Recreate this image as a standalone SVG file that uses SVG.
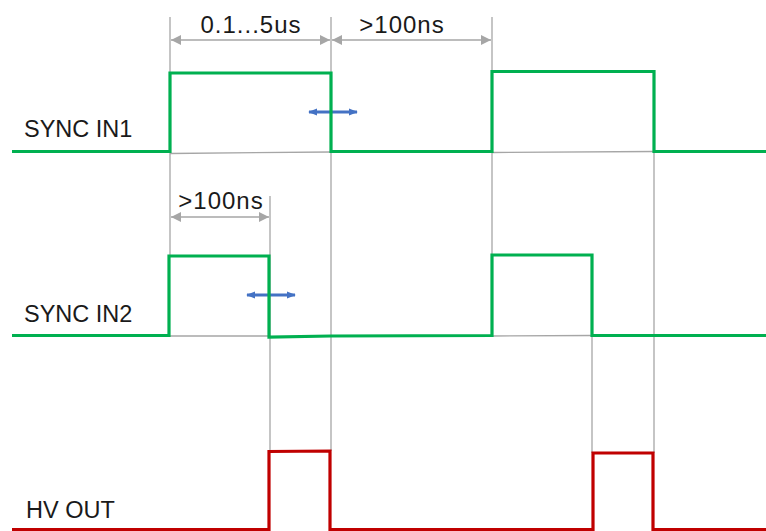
<svg xmlns="http://www.w3.org/2000/svg" width="766" height="531" viewBox="0 0 766 531">
<defs>
<marker id="ga" viewBox="0 0 10 10" refX="10" refY="5" markerWidth="10" markerHeight="10" markerUnits="userSpaceOnUse" orient="auto-start-reverse">
<path d="M0,0 L10,5 L0,10 Z" fill="#A6A6A6"/>
</marker>
<marker id="ba" viewBox="0 0 10 10" refX="9" refY="5" markerWidth="9" markerHeight="9" markerUnits="userSpaceOnUse" orient="auto-start-reverse">
<path d="M0,1 L10,5 L0,9 Z" fill="#4472C4"/>
</marker>
</defs>
<style>
.g{stroke:#A6A6A6;stroke-width:1.3;fill:none}
.dim{stroke:#A6A6A6;stroke-width:1.5;fill:none;marker-start:url(#ga);marker-end:url(#ga)}
.blue{stroke:#4472C4;stroke-width:3;fill:none;marker-start:url(#ba);marker-end:url(#ba)}
.sig{stroke:#00B050;stroke-width:3.2;fill:none;stroke-linejoin:miter}
.hv{stroke:#C00000;stroke-width:3.2;fill:none;stroke-linejoin:miter}
.t{font-family:"Liberation Sans",Arial,sans-serif;font-size:23.5px;fill:#1a1a1a}
.d{font-family:"Liberation Sans",Arial,sans-serif;font-size:24px;letter-spacing:1px;fill:#1a1a1a;text-anchor:middle}
</style>
<g id="connectors">
<line class="g" x1="170" y1="17" x2="170" y2="256"/>
<line class="g" x1="331" y1="17" x2="331" y2="451"/>
<line class="g" x1="492" y1="17" x2="492" y2="255"/>
<line class="g" x1="270" y1="196" x2="270" y2="451"/>
<line class="g" x1="592" y1="336" x2="592" y2="453"/>
<line class="g" x1="654" y1="152" x2="654" y2="453"/>
<line class="g" x1="170" y1="153.5" x2="331" y2="152"/>
<line class="g" x1="492" y1="152.5" x2="654" y2="151.5"/>
<line class="g" x1="170" y1="336" x2="270" y2="336"/>
<line class="g" x1="492" y1="336" x2="592" y2="335.5"/>
<line class="dim" x1="171" y1="40" x2="330" y2="40"/>
<line class="dim" x1="332" y1="40" x2="491" y2="40"/>
<line class="dim" x1="171" y1="217" x2="269" y2="217"/>
<line class="blue" x1="309" y1="112" x2="357" y2="112"/>
<line class="blue" x1="247" y1="295" x2="295" y2="295"/>
</g>
<g id="labels-dim">
<text class="d" x="251" y="33">0.1...5us</text>
<text class="d" x="402" y="33">&gt;100ns</text>
<text class="d" x="221" y="209">&gt;100ns</text>
</g>
<g id="sync-in1">
<text class="t" x="24" y="137">SYNC IN1</text>
<polyline class="sig" points="12,151.5 170,151.5 170,73 331,73 331,151.5 492,151.5 492,71.5 654,71.5 654,151.5 766,151.5"/>
</g>
<g id="sync-in2">
<text class="t" x="24" y="322">SYNC IN2</text>
<polyline class="sig" points="12,335.5 169,335.5 169,256 269,256 269,337 331,336 492,335.5 492,255 592,255 592,335.5 766,335.5"/>
</g>
<g id="hv-out">
<text class="t" x="26" y="518">HV OUT</text>
<polyline class="hv" points="12,529.5 269,529.5 269,451.5 330,451 330,529.5 593,529.5 593,453 653,453 653,529.5 766,529.5"/>
</g>
</svg>
